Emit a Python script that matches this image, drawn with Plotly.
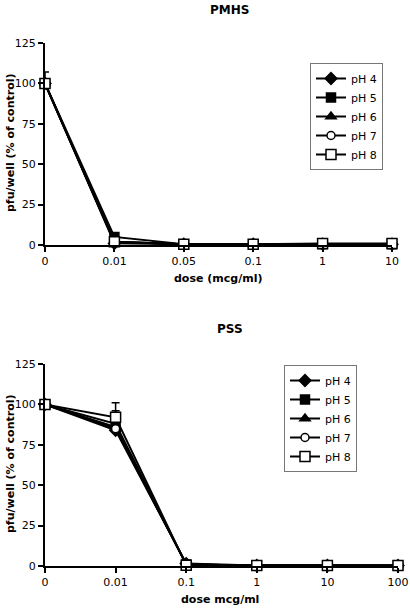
import plotly.graph_objects as go

# ---- data ----
pmhs_doses = ["0", "0.01", "0.05", "0.1", "1", "10"]
pmhs_ph4 = [100, 1, 0.5, 0.5, 0.5, 0.5]
pmhs_ph5 = [100, 5, 0.5, 0.5, 0.5, 0.5]
pmhs_ph6 = [100, 2, 0.5, 0.5, 0.5, 0.5]
pmhs_ph7 = [100, 2, 0.5, 0.5, 0.5, 0.5]
pmhs_ph8 = [100, 2, 0.5, 0.5, 1, 1]
pmhs_err8 = [7, 0, 0, 0, 0, 0]

pss_doses = ["0", "0.01", "0.1", "1", "10", "100"]
pss_ph4 = [100, 84, 1.5, 0.3, 0.3, 0.3]
pss_ph5 = [100, 88, 1, 0.3, 0.3, 0.3]
pss_ph6 = [100, 86, 1, 0.3, 0.3, 0.3]
pss_ph7 = [100, 85, 1, 0.3, 0.3, 0.3]
pss_ph8 = [100, 92, 0.5, 0.3, 0.3, 0.3]
pss_err8 = [0, 9, 0, 0, 0, 0]
pss_err5 = [0, 8, 0, 0, 0, 0]

y_ticks = [0, 25, 50, 75, 100, 125]
labels = ["pH 4", "pH 5", "pH 6", "pH 7", "pH 8"]
symbols = ["diamond", "square", "triangle-up", "circle", "square"]
fills = ["black", "black", "black", "white", "white"]
sizes = [9, 9, 9, 8, 10]

FONT = "DejaVu Sans"
fig = go.Figure()

def add_series(xs, ys_list, xaxis, yaxis, legend, errs):
    for i, (lab, ys) in enumerate(zip(labels, ys_list)):
        err = errs.get(i)
        fig.add_trace(go.Scatter(
            x=xs, y=ys, name=lab, mode="lines+markers",
            xaxis=xaxis, yaxis=yaxis, legend=legend,
            line=dict(color="black", width=2),
            marker=dict(symbol=symbols[i], size=sizes[i], color=fills[i],
                        line=dict(color="black", width=1.5)),
            cliponaxis=False,
            error_y=dict(type="data", symmetric=False, array=err,
                         arrayminus=[0] * len(err), color="black",
                         thickness=1.5, width=4, visible=True) if err else None,
        ))

add_series(pmhs_doses, [pmhs_ph4, pmhs_ph5, pmhs_ph6, pmhs_ph7, pmhs_ph8], "x", "y", "legend", {4: pmhs_err8})
add_series(pss_doses, [pss_ph4, pss_ph5, pss_ph6, pss_ph7, pss_ph8], "x2", "y2", "legend2", {1: pss_err5, 4: pss_err8})

W, H = 410, 608
def px(x):
    return x / W
def py(y):
    return 1 - y / H

axis_common = dict(showgrid=False, zeroline=False, showline=True, linecolor="black", linewidth=2,
                   ticks="outside", ticklen=5, tickwidth=2, tickcolor="black", automargin=False,
                   tickfont=dict(family=FONT, size=11, color="black"))

fig.update_layout(
    width=W, height=H, margin=dict(l=0, r=0, t=0, b=0),
    paper_bgcolor="white", plot_bgcolor="white",
    font=dict(family=FONT, color="black"),
    xaxis=dict(**axis_common, type="category", categoryorder="array", categoryarray=pmhs_doses,
               range=[0, 5], domain=[px(45), px(392)], anchor="y"),
    yaxis=dict(**axis_common, range=[0, 125], tickvals=y_ticks, domain=[py(245), py(43)], anchor="x"),
    xaxis2=dict(**axis_common, type="category", categoryorder="array", categoryarray=pss_doses,
                range=[0, 5], domain=[px(45), px(398)], anchor="y2"),
    yaxis2=dict(**axis_common, range=[0, 125], tickvals=y_ticks, domain=[py(566), py(364)], anchor="x2"),
    legend=dict(x=px(310), y=py(63), xanchor="left", yanchor="top", bordercolor="#777", borderwidth=1,
                bgcolor="white", font=dict(family=FONT, size=11), tracegroupgap=0, itemwidth=30),
    legend2=dict(x=px(284), y=py(365), xanchor="left", yanchor="top", bordercolor="#777", borderwidth=1,
                 bgcolor="white", font=dict(family=FONT, size=11), tracegroupgap=0, itemwidth=30),
    showlegend=True,
)

ann = dict(xref="paper", yref="paper", showarrow=False)
tfont = dict(family=FONT, size=12, color="black")
afont = dict(family=FONT, size=11, color="black")
fig.add_annotation(text="<b>PMHS</b>", x=px(229), y=py(10), xanchor="center", yanchor="middle", font=tfont, **ann)
fig.add_annotation(text="<b>PSS</b>", x=px(230), y=py(329), xanchor="center", yanchor="middle", font=tfont, **ann)
fig.add_annotation(text="<b>dose (mcg/ml)</b>", x=px(218), y=py(278), xanchor="center", yanchor="middle", font=afont, **ann)
fig.add_annotation(text="<b>dose mcg/ml</b>", x=px(220), y=py(599), xanchor="center", yanchor="middle", font=afont, **ann)
fig.add_annotation(text="<b>pfu/well (% of control)</b>", x=px(10), y=py(143), textangle=-90,
                   xanchor="center", yanchor="middle", font=afont, **ann)
fig.add_annotation(text="<b>pfu/well (% of control)</b>", x=px(10), y=py(464), textangle=-90,
                   xanchor="center", yanchor="middle", font=afont, **ann)

fig.write_html("out.html", config={"displayModeBar": False},
               post_script="document.body.style.margin='0';document.body.style.overflow='hidden';")
